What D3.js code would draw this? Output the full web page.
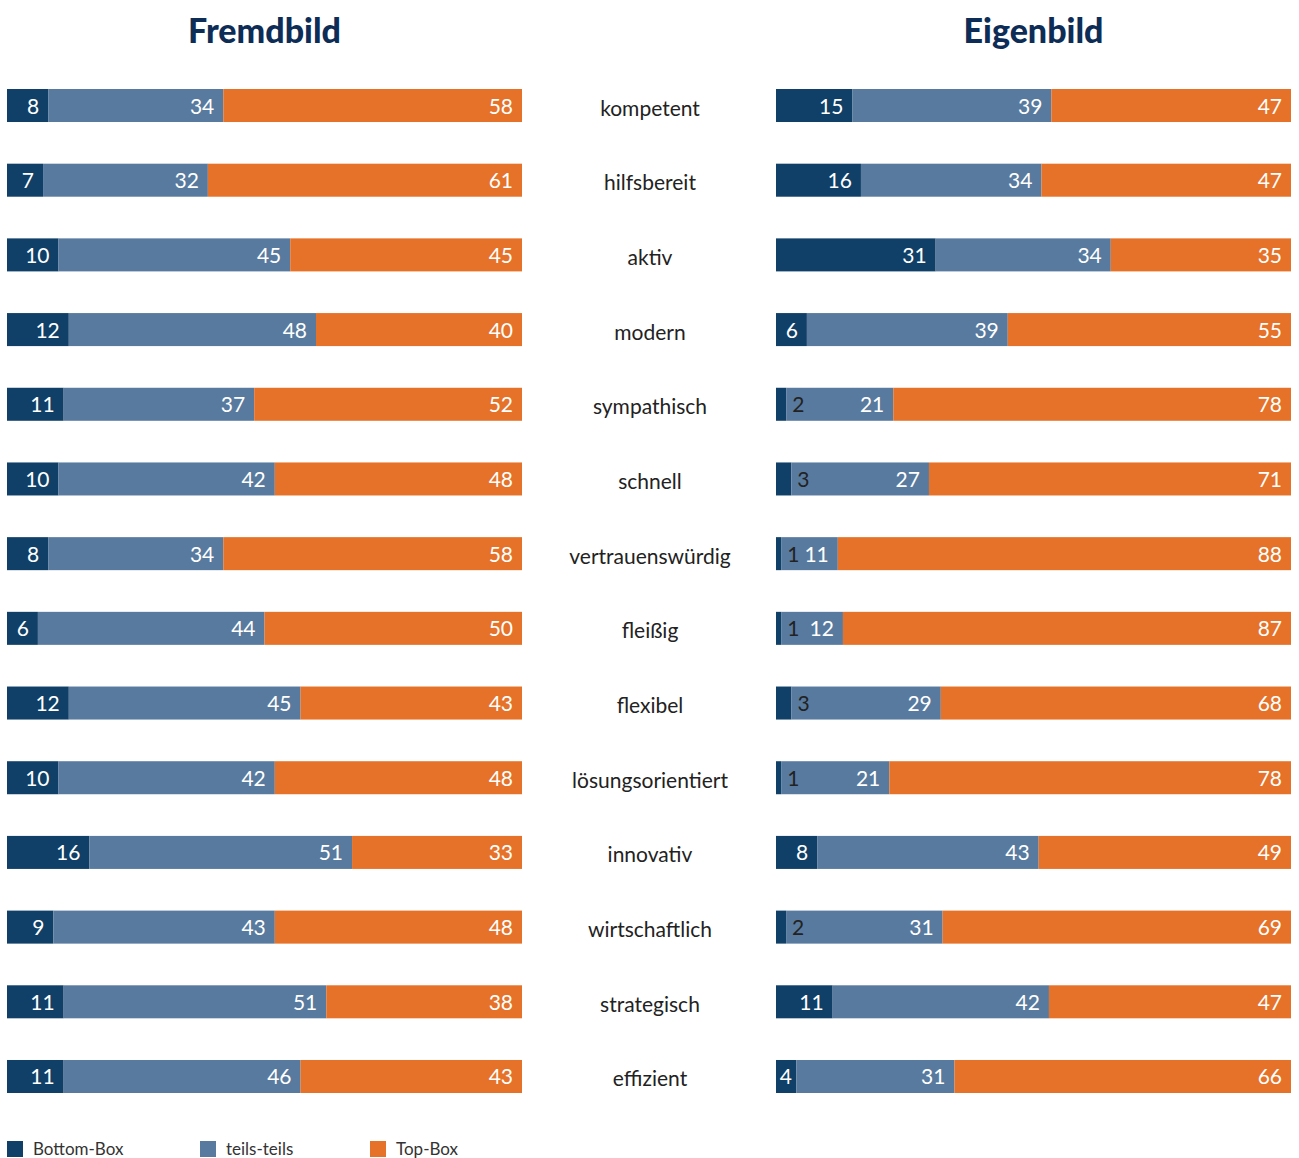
<!DOCTYPE html>
<html>
<head>
<meta charset="utf-8">
<script src="https://cdn.jsdelivr.net/npm/d3@7"></script>
<style>
  html, body { margin: 0; padding: 0; background: #fff; }
  svg { display: block; }
  text { font-family: Lato, "Open Sans", sans-serif; }
</style>
</head>
<body>
<svg id="chart" width="1299" height="1158"></svg>
<script>
const categories = ["kompetent","hilfsbereit","aktiv","modern","sympathisch","schnell","vertrauenswürdig","fleißig","flexibel","lösungsorientiert","innovativ","wirtschaftlich","strategisch","effizient"];
const seriesNames = ["Bottom-Box","teils-teils","Top-Box"];
const panelTitles = ["Fremdbild","Eigenbild"];

const fremdBottom = [8,7,10,12,11,10,8,6,12,10,16,9,11,11];
const fremdTeils  = [34,32,45,48,37,42,34,44,45,42,51,43,51,46];
const fremdTop    = [58,61,45,40,52,48,58,50,43,48,33,48,38,43];

const eigenBottom = [15,16,31,6,2,3,1,1,3,1,8,2,11,4];
const eigenTeils  = [39,34,34,39,21,27,11,12,29,21,43,31,42,31];
const eigenTop    = [47,47,35,55,78,71,88,87,68,78,49,69,47,66];

const colors = ["#103f67","#587a9e","#e57228"];

const svg = d3.select("#chart");

const y = d3.scaleBand().domain(categories).range([89, 1093]).paddingInner(0.558).paddingOuter(0);

const panels = [
  {title: panelTitles[0], x0: 7, x1: 522, data: [fremdBottom, fremdTeils, fremdTop]},
  {title: panelTitles[1], x0: 776, x1: 1291, data: [eigenBottom, eigenTeils, eigenTop]}
];

panels.forEach(p => {
  const x = d3.scaleLinear().domain([0, 100]).range([p.x0, p.x1]);
  const g = svg.append("g");
  g.append("text")
    .attr("x", (p.x0 + p.x1) / 2)
    .attr("y", 43)
    .attr("text-anchor", "middle")
    .attr("font-size", 34)
    .attr("font-weight", 900)
    .attr("fill", "#0d2d57")
    .text(p.title);

  categories.forEach((c, i) => {
    const vals = p.data.map(s => s[i]);
    const total = d3.sum(vals);
    let acc = 0;
    const segs = vals.map((v, k) => {
      const s = {k, v, a: acc / total * 100, b: (acc + v) / total * 100};
      acc += v;
      return s;
    });
    const by = y(c), bh = y.bandwidth();
    segs.forEach(s => {
      g.append("rect")
        .attr("x", x(s.a))
        .attr("y", by)
        .attr("width", x(s.b) - x(s.a))
        .attr("height", bh)
        .attr("fill", colors[s.k]);
    });
    segs.forEach(s => {
      const small = s.v <= 3;
      const lx = small ? x(s.b) + 6 : Math.max(x(s.b) - 9, x(s.a) + 16);
      g.append("text")
        .attr("x", lx)
        .attr("y", by + bh / 2 + 8)
        .attr("text-anchor", small ? "start" : "end")
        .attr("font-size", 21)
        .attr("fill", small ? "#222" : "#fff")
        .text(s.v);
    });
  });
});

// category labels
svg.append("g").selectAll("text").data(categories).join("text")
  .attr("x", 650)
  .attr("y", d => y(d) + y.bandwidth() / 2 + 10)
  .attr("text-anchor", "middle")
  .attr("font-size", 21)
  .attr("fill", "#222")
  .text(d => d);

// legend
const legX = [7, 200, 370];
const leg = svg.append("g");
seriesNames.forEach((n, k) => {
  leg.append("rect").attr("x", legX[k]).attr("y", 1141).attr("width", 16).attr("height", 16).attr("fill", colors[k]);
  leg.append("text").attr("x", legX[k] + 26).attr("y", 1155).attr("font-size", 17).attr("fill", "#333").text(n);
});
</script>
</body>
</html>
